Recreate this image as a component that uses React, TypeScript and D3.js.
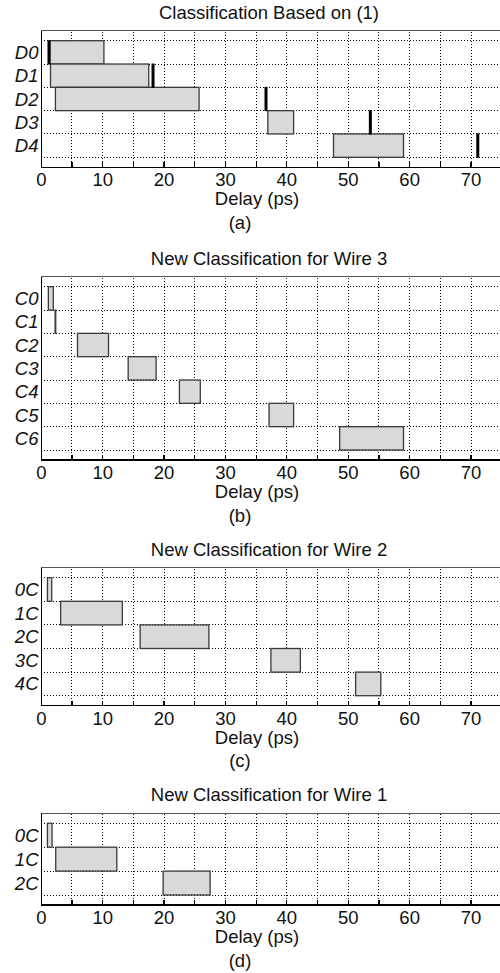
import React from 'react';
import * as d3 from 'd3';

// ---- text ----
const titles = [
  'Classification Based on (1)',
  'New Classification for Wire 3',
  'New Classification for Wire 2',
  'New Classification for Wire 1',
];
const captions = ['(a)', '(b)', '(c)', '(d)'];
const xLabel = 'Delay (ps)';
const xTickValues = [0, 10, 20, 30, 40, 50, 60, 70];
const xGridValues = [5, 10, 15, 20, 25, 30, 35, 40, 45, 50, 55, 60, 65, 70, 75];

// ---- panel (a) ----
const catsA = ['D0', 'D1', 'D2', 'D3', 'D4'];
const startA = [1.4, 1.5, 2.3, 36.9, 47.6];
const endA = [10.2, 17.5, 25.7, 41.1, 59.0];
const marksA = [1.25, 18.2, 36.6, 53.6, 71.1];

// ---- panel (b) ----
const catsB = ['C0', 'C1', 'C2', 'C3', 'C4', 'C5', 'C6'];
const startB = [1.15, 2.25, 5.9, 14.15, 22.5, 37.1, 48.6];
const endB = [1.95, 2.35, 10.95, 18.7, 25.9, 41.1, 59.0];

// ---- panel (c) ----
const catsC = ['0C', '1C', '2C', '3C', '4C'];
const startC = [1.0, 3.15, 16.1, 37.4, 51.2];
const endC = [1.7, 13.2, 27.3, 42.2, 55.3];

// ---- panel (d) ----
const catsD = ['0C', '1C', '2C'];
const startD = [1.0, 2.35, 19.85];
const endD = [1.75, 12.3, 27.5];

const panels = [
  { cats: catsA, start: startA, end: endA, marks: marksA, top: 30.7, bottom: 167.3 },
  { cats: catsB, start: startB, end: endB, marks: [] as number[], top: 276.7, bottom: 460 },
  { cats: catsC, start: startC, end: endC, marks: [] as number[], top: 567.7, bottom: 705.7 },
  { cats: catsD, start: startD, end: endD, marks: [] as number[], top: 813.3, bottom: 905 },
];

const W = 500;
const H = 973;
const FONT = 'Arial, "Liberation Sans", Helvetica, sans-serif';
const X0 = 41.3;

const x = d3.scaleLinear().domain([0, 75]).range([X0, X0 + 75 * 6.139]);

function Panel({ p, idx }: { p: (typeof panels)[number]; idx: number }) {
  const n = p.cats.length;
  const y = d3.scaleLinear().domain([0, n]).range([p.top + 10, p.bottom - 10]);
  const rows = d3.range(n + 1);
  return (
    <g>
      <text x={269} y={p.top - 18.5} textAnchor="middle" dominantBaseline="central"
        fontSize={18.5} fontFamily={FONT} fill="#111">{titles[idx]}</text>
      <g shapeRendering="crispEdges">
        {xGridValues.map((v) => (
          <line key={'gx' + v} x1={x(v)} x2={x(v)} y1={p.top + 1} y2={p.bottom}
            stroke="#000" strokeWidth={1} strokeDasharray="1,2" />
        ))}
        {rows.map((r) => (
          <line key={'gy' + r} x1={X0} x2={W} y1={y(r)} y2={y(r)}
            stroke="#000" strokeWidth={1} strokeDasharray="1,2" />
        ))}
      </g>
      {p.cats.map((c, i) => (
        <rect key={'b' + c} x={x(p.start[i])} y={y(i)}
          width={Math.max(0.1, x(p.end[i]) - x(p.start[i]))} height={y(i + 1) - y(i)}
          fill="#d9d9d9" stroke="#3a3a3a" strokeWidth={1.3} />
      ))}
      {p.marks.map((m, i) => (
        <line key={'m' + i} x1={x(m)} x2={x(m)} y1={y(i) - 0.5} y2={y(i + 1) + 0.5}
          stroke="#000" strokeWidth={3} />
      ))}
      <g shapeRendering="crispEdges">
        <line x1={X0} x2={W} y1={p.top} y2={p.top} stroke="#555" strokeWidth={1.3} />
        <line x1={X0} x2={W} y1={p.bottom} y2={p.bottom} stroke="#000" strokeWidth={1.3} />
        <line x1={X0} x2={X0} y1={p.top} y2={p.bottom} stroke="#000" strokeWidth={1.3} />
        {xGridValues.map((v) => (
          <line key={'t' + v} x1={x(v)} x2={x(v)} y1={p.bottom} y2={p.bottom - 5}
            stroke="#000" strokeWidth={1.2} />
        ))}
      </g>
      {xTickValues.map((v) => (
        <text key={'tl' + v} x={x(v)} y={p.bottom + 12.3} textAnchor="middle"
          dominantBaseline="central" fontSize={18.5} fontFamily={FONT} fill="#111">{v}</text>
      ))}
      {p.cats.map((c, i) => (
        <text key={'yl' + c} x={38.5} y={y(i + 0.5)} textAnchor="end" dominantBaseline="central"
          fontSize={18.5} fontStyle="italic" fontFamily={FONT} fill="#111">{c}</text>
      ))}
      <text x={257} y={p.bottom + 31.5} textAnchor="middle" dominantBaseline="central"
        fontSize={18.5} fontFamily={FONT} fill="#111">{xLabel}</text>
      <text x={240} y={p.bottom + 55} textAnchor="middle" dominantBaseline="central"
        fontSize={18.5} fontFamily={FONT} fill="#111">{captions[idx]}</text>
    </g>
  );
}

export default function App() {
  return (
    <svg width={W} height={H} viewBox={`0 0 ${W} ${H}`}
      style={{ position: 'absolute', left: 0, top: 0, background: '#fff' }}>
      <rect x={0} y={0} width={W} height={H} fill="#fff" />
      {panels.map((p, i) => (
        <Panel key={i} p={p} idx={i} />
      ))}
    </svg>
  );
}
